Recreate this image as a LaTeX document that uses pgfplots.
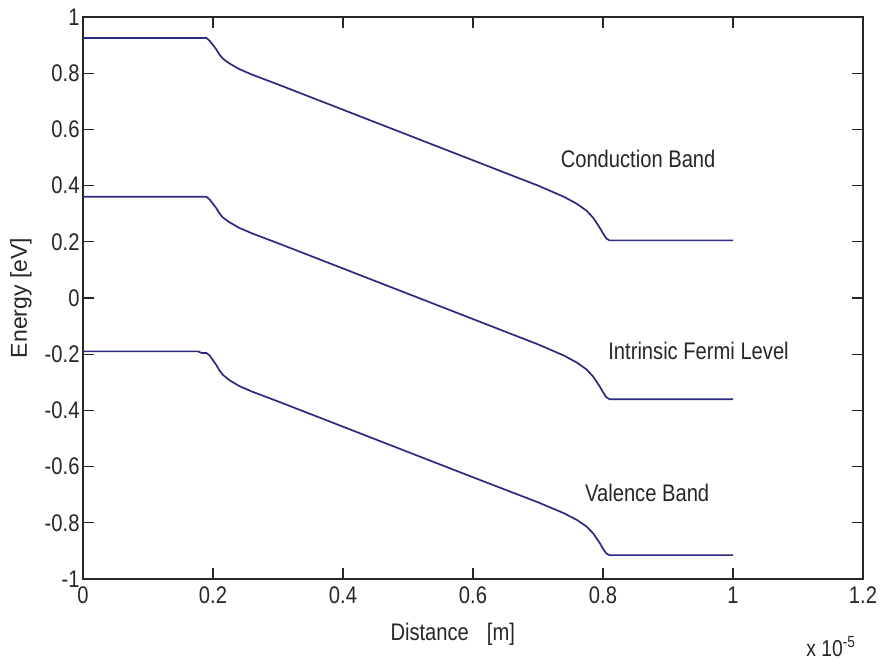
\documentclass[border=0pt]{standalone}
\usepackage{fontspec}
\setmainfont{Liberation Sans}[FakeStretch=0.84]
\newfontfamily\ylabfont{Liberation Sans}
\usepackage{pgfplots}
\usepackage{pgfplotstable}
\pgfplotsset{compat=1.18}
\definecolor{band}{RGB}{42,42,128}

\pgfplotstableread{
x y
0 0.925
0.19 0.925
0.195 0.915
0.20 0.900
0.205 0.885
0.21 0.866
0.215 0.852
0.225 0.835
0.24 0.815
0.26 0.795
0.30 0.760
0.35 0.715
0.40 0.670
0.50 0.580
0.60 0.490
0.70 0.400
0.74 0.360
0.76 0.335
0.775 0.310
0.785 0.285
0.795 0.250
0.80 0.230
0.805 0.212
0.81 0.205
1.0 0.205
}\cband

\pgfplotstableread{
x y
0 0.360
0.19 0.360
0.195 0.350
0.20 0.335
0.205 0.320
0.21 0.301
0.215 0.287
0.225 0.270
0.24 0.250
0.26 0.230
0.30 0.195
0.35 0.150
0.40 0.105
0.50 0.015
0.60 -0.075
0.70 -0.165
0.74 -0.205
0.76 -0.230
0.775 -0.255
0.785 -0.280
0.795 -0.315
0.80 -0.335
0.805 -0.353
0.81 -0.360
1.0 -0.360
}\iband

\pgfplotstableread{
x y
0 -0.190
0.177 -0.190
0.183 -0.196
0.19 -0.196
0.195 -0.205
0.20 -0.222
0.205 -0.238
0.21 -0.258
0.215 -0.273
0.225 -0.292
0.24 -0.313
0.26 -0.333
0.30 -0.368
0.35 -0.413
0.40 -0.458
0.50 -0.548
0.60 -0.638
0.70 -0.727
0.74 -0.766
0.76 -0.790
0.775 -0.814
0.785 -0.838
0.795 -0.872
0.80 -0.892
0.805 -0.909
0.81 -0.915
1.0 -0.915
}\vband

\begin{document}
\begin{tikzpicture}
\begin{axis}[
  scale only axis,
  width=780pt, height=562pt,
  xmin=0, xmax=1.2, ymin=-1, ymax=1,
  xtick={0,0.2,0.4,0.6,0.8,1.0,1.2},
  xticklabels={0,0.2,0.4,0.6,0.8,1,1.2},
  ytick={-1,-0.8,-0.6,-0.4,-0.2,0,0.2,0.4,0.6,0.8,1},
  yticklabels={-1,-0.8,-0.6,-0.4,-0.2,0,0.2,0.4,0.6,0.8,1},
  tick align=inside,
  tick pos=both,
  major tick length=11pt,
  tick style={line width=1.1pt, black!85},
  axis line style={line width=1.3pt, black!85},
  tick label style={font=\fontsize{24}{24}\selectfont, text=black!85},
  xticklabel style={yshift=-4pt},
  clip=false,
]
\addplot[band, line width=1.7pt] table[x=x,y=y] {\cband};
\addplot[band, line width=1.7pt] table[x=x,y=y] {\iband};
\addplot[band, line width=1.7pt] table[x=x,y=y] {\vband};

\node[font=\fontsize{24}{24}\selectfont, text=black!85] at (axis cs:0.854,0.495) {Conduction Band};
\node[font=\fontsize{24}{24}\selectfont, text=black!85] at (axis cs:0.947,-0.19) {Intrinsic Fermi Level};
\node[font=\fontsize{24}{24}\selectfont, text=black!85] at (axis cs:0.868,-0.694) {Valence Band};

\node[font=\fontsize{24}{24}\selectfont, text=black!85] at ([yshift=-55pt]axis description cs:0.474,0) {Distance\hspace{18pt}[m]};
\node[rotate=90, font=\ylabfont\fontsize{23}{23}\selectfont, text=black!85] at ([xshift=-62pt]axis description cs:0,0.5) {Energy [eV]};
\node[anchor=east, font=\fontsize{23}{23}\selectfont, text=black!85] at ([xshift=-4pt,yshift=-68pt]axis description cs:1,0) {x 10\textsuperscript{-5}};
\end{axis}
\pgfresetboundingbox
\path[use as bounding box] (-83pt,-83pt) rectangle (800pt,579pt);
\end{tikzpicture}
\end{document}
